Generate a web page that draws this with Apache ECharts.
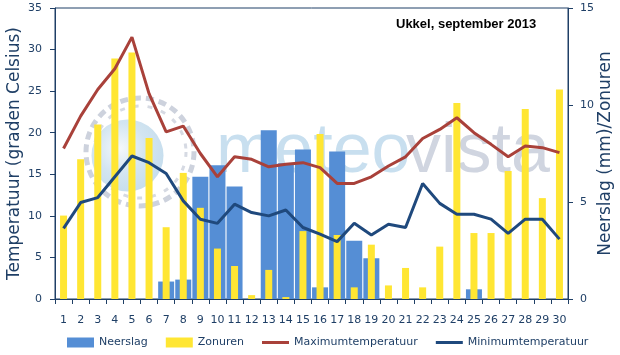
<!DOCTYPE html>
<html>
<head>
<meta charset="utf-8">
<script src="https://cdn.jsdelivr.net/npm/echarts@6/dist/echarts.min.js"></script>
<style>
html,body{margin:0;padding:0;background:#fff;}
#c{width:620px;height:355px;}
</style>
</head>
<body>
<div id="c"></div>
<script>
var categories = ['1','2','3','4','5','6','7','8','9','10','11','12','13','14','15','16','17','18','19','20','21','22','23','24','25','26','27','28','29','30'];
var neerslag = [0,0,0,0,0,0,0.9,1.0,6.3,6.9,5.8,0,8.7,7.0,7.7,0.6,7.6,3.0,2.1,0,0,0,0,0,0.5,0,0,0,0,0];
var zonuren = [4.3,7.2,9.0,12.4,12.7,8.3,3.7,6.5,4.7,2.6,1.7,0.2,1.5,0.1,3.5,8.5,3.3,0.6,2.8,0.7,1.6,0.6,2.7,10.1,3.4,3.4,6.6,9.8,5.2,10.8];
var maxTemp = [18.1,22.0,25.2,27.7,31.5,24.7,20.1,20.8,17.5,14.7,17.1,16.8,15.9,16.2,16.4,15.8,13.9,13.9,14.7,16.0,17.1,19.3,20.4,21.8,20.0,18.6,17.1,18.4,18.2,17.6];
var minTemp = [8.5,11.6,12.2,14.7,17.2,16.4,15.1,11.8,9.6,9.1,11.4,10.4,10.0,10.7,8.6,7.8,6.9,9.1,7.7,9.0,8.6,13.9,11.5,10.2,10.2,9.6,7.9,9.6,9.6,7.2];
var tempTicks = {min:0, max:35, interval:5};
var rightTicks = {min:0, max:15, interval:5};

var navy = '#1F3F66';
var font = 'DejaVu Sans';
var lineIcon = 'path://M0,0 H27 V3 H0 Z';
var chart = echarts.init(document.getElementById('c'), null, {renderer:'canvas'});
chart.setOption({
  animation:false,
  backgroundColor:'#fff',
  title:{
    text:'Ukkel, september 2013', left:396, top:18, padding:0,
    textStyle:{fontFamily:'Liberation Sans', fontWeight:'bold', fontSize:13, color:'#000'}
  },
  graphic:[
    {type:'circle', z:-10, shape:{cx:140, cy:152, r:54},
     style:{fill:null, stroke:'#CDD2DD', lineWidth:5, lineDash:[8,5]}},
    {type:'circle', z:-10, shape:{cx:140, cy:152, r:46},
     style:{fill:null, stroke:'#D6DAE3', lineWidth:3, lineDash:[5,9]}},
    {type:'circle', z:-9, shape:{cx:127.5, cy:155.5, r:36},
     style:{fill:new echarts.graphic.RadialGradient(0.4,0.4,0.7,[{offset:0,color:'#F4F8FB'},{offset:0.5,color:'#D3E5F1'},{offset:1,color:'#C3DCED'}])}},
    {type:'text', z:-9, x:216, y:153,
     style:{text:'meteo', fill:'#C8DFEF', font:'70px "Liberation Sans"', verticalAlign:'middle', align:'left'}},
    {type:'text', z:-9, x:406, y:153,
     style:{text:'vista', fill:'#D0D5E0', font:'70px "Liberation Sans"', verticalAlign:'middle', align:'left'}}
  ],
  legend:{
    left:67, top:337, padding:0, itemGap:18, itemWidth:27, itemHeight:10,
    textStyle:{fontFamily:font, fontSize:11, color:navy},
    data:[{name:'Neerslag', icon:'rect'},{name:'Zonuren', icon:'rect'},{name:'Maximumtemperatuur', icon:lineIcon},{name:'Minimumtemperatuur', icon:lineIcon}]
  },
  grid:{left:55, right:52, top:8, bottom:56, containLabel:false, outerBoundsMode:'none',
        show:true, borderColor:navy, borderWidth:1, backgroundColor:'transparent'},
  xAxis:[
    {type:'category', data:categories, boundaryGap:true,
     axisLine:{lineStyle:{color:navy, width:1}},
     axisTick:{show:true, interval:0, length:5, lineStyle:{color:navy}},
     axisLabel:{interval:0, margin:16, color:navy, fontFamily:font, fontSize:11}},
    {type:'category', data:categories, show:false, position:'bottom'}
  ],
  yAxis:[
    {type:'value', min:tempTicks.min, max:tempTicks.max, interval:tempTicks.interval, position:'left',
     name:'Temperatuur (graden Celsius)', nameLocation:'middle', nameGap:32, nameMoveOverlap:false,
     nameTextStyle:{fontFamily:font, fontSize:17, color:navy},
     axisLine:{show:true, lineStyle:{color:navy}},
     axisTick:{show:true, length:5, lineStyle:{color:navy}},
     axisLabel:{margin:13, color:navy, fontFamily:font, fontSize:11},
     splitLine:{show:false}},
    {type:'value', min:rightTicks.min, max:rightTicks.max, interval:rightTicks.interval, position:'right',
     name:'Neerslag (mm)/Zonuren', nameLocation:'middle', nameGap:29, nameMoveOverlap:false,
     nameTextStyle:{fontFamily:font, fontSize:17, color:navy},
     axisLine:{show:true, lineStyle:{color:navy}},
     axisTick:{show:true, length:5, lineStyle:{color:navy}},
     axisLabel:{margin:12, color:navy, fontFamily:font, fontSize:11},
     splitLine:{show:false}}
  ],
  series:[
    {name:'Neerslag', type:'bar', xAxisIndex:0, yAxisIndex:1, data:neerslag, barWidth:16,
     itemStyle:{color:'#558ED5'}, z:2},
    {name:'Zonuren', type:'bar', xAxisIndex:1, yAxisIndex:1, data:zonuren, barWidth:7,
     itemStyle:{color:'#FFE633'}, z:3},
    {name:'Maximumtemperatuur', type:'line', xAxisIndex:0, yAxisIndex:0, data:maxTemp, symbol:'none',
     lineStyle:{color:'#A9413A', width:3}, itemStyle:{color:'#A9413A'}, z:4},
    {name:'Minimumtemperatuur', type:'line', xAxisIndex:0, yAxisIndex:0, data:minTemp, symbol:'none',
     lineStyle:{color:'#1F497D', width:3}, itemStyle:{color:'#1F497D'}, z:5}
  ]
});
</script>
</body>
</html>
